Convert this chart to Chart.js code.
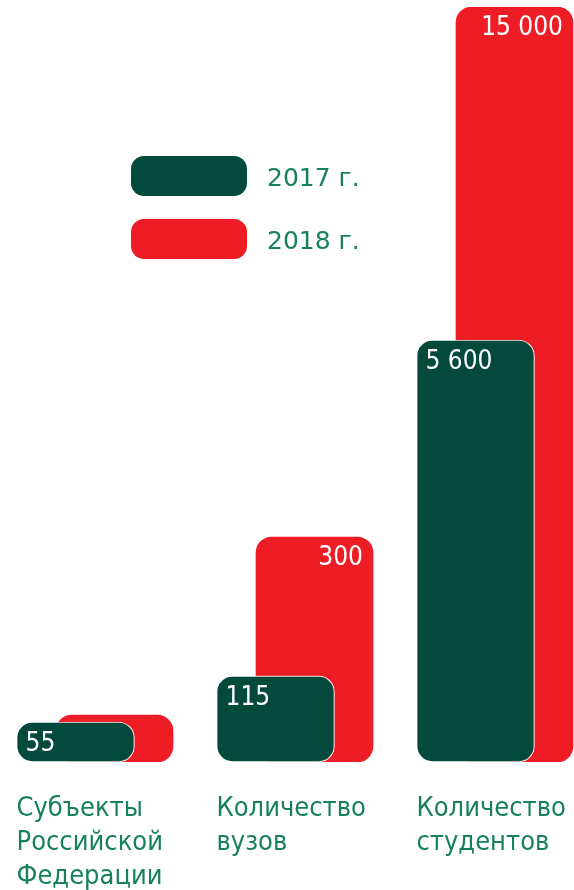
<!DOCTYPE html>
<html lang="ru">

<head>
  <meta charset="UTF-8">
  <title>Chart</title>
  <style>
    body { margin: 0; background: #fff; }
    .wrap { position: relative; width: 574px; height: 890px; }
  </style>
</head>

<body>
  <div class="wrap">
    <canvas id="myChart"></canvas>
  </div>
</body>

</html>
<script src="https://cdn.jsdelivr.net/npm/chart.js"></script>

<script>
  // categories (multi-line labels)
  var categorias = [
    ['Субъекты', 'Российской', 'Федерации'],
    ['Количество', 'вузов'],
    ['Количество', 'студентов']
  ];
  var series = ['2017 г.', '2018 г.'];
  // printed values
  var valores2017 = ['55', '115', '5 600'];
  var valores2018 = ['', '300', '15 000'];
  // bar heights as drawn in the picture (not to scale with the values), 0..100
  var altura2017 = [5.3, 11.4, 55.9];
  var altura2018 = [6.2, 29.8, 100];

  var verdeEscuro = '#034a3d';
  var vermelho = '#ee1d25';
  var verdeTexto = '#17805f';
  var fonteCond = '"Liberation Sans Narrow", "DejaVu Sans Condensed", sans-serif';

  function pontos(arr) {
    return arr.map(function (v, i) { return { x: i, y: v }; });
  }

  var plugin = {
    id: 'extras',
    afterDatasetsDraw: function (chart) {
      var ctx = chart.ctx;
      ctx.save();
      ctx.textBaseline = 'middle';
      ctx.font = '26px ' + fonteCond;
      ctx.fillStyle = '#ffffff';

      // value labels
      var m0 = chart.getDatasetMeta(0);
      var m1 = chart.getDatasetMeta(1);
      m0.data.forEach(function (bar, i) {
        var p = bar.getProps(['x', 'y', 'width'], true);
        ctx.textAlign = 'left';
        ctx.fillText(valores2017[i], p.x - p.width / 2 + 9, p.y + 22);
      });
      m1.data.forEach(function (bar, i) {
        var p = bar.getProps(['x', 'y', 'width'], true);
        ctx.textAlign = 'right';
        ctx.fillText(valores2018[i], p.x + p.width / 2 - 10, p.y + 21);
      });

      // category labels under the bars
      ctx.fillStyle = verdeTexto;
      ctx.textAlign = 'left';
      ctx.font = '27px ' + fonteCond;
      m0.data.forEach(function (bar, i) {
        var p = bar.getProps(['x', 'width'], true);
        categorias[i].forEach(function (linha, j) {
          ctx.fillText(linha, p.x - p.width / 2, chart.chartArea.bottom + 47 + j * 34);
        });
      });

      // legend
      var cores = [verdeEscuro, vermelho];
      ctx.font = '25px "DejaVu Sans", sans-serif';
      series.forEach(function (s, i) {
        var y = 156 + i * 63;
        ctx.fillStyle = cores[i];
        ctx.beginPath();
        ctx.roundRect(131, y, 116, 40, 13);
        ctx.fill();
        ctx.fillStyle = verdeTexto;
        ctx.fillText(s, 267, y + 23);
      });
      ctx.restore();
    }
  };

  const ctx = document.getElementById('myChart');
  new Chart(ctx, {
    type: 'bar',
    data: {
      datasets: [{
        label: series[0],
        data: pontos(altura2017),
        xAxisID: 'xd',
        backgroundColor: verdeEscuro,
        borderColor: 'rgba(255,255,255,0.85)',
        borderWidth: 1.2,
        borderRadius: 16,
        borderSkipped: false,
        barThickness: 118,
        grouped: false
      },
      {
        label: series[1],
        data: pontos(altura2018),
        xAxisID: 'xr',
        backgroundColor: vermelho,
        borderWidth: 0,
        borderRadius: 16,
        borderSkipped: false,
        barThickness: 117,
        grouped: false
      }]
    },
    options: {
      responsive: true,
      maintainAspectRatio: false,
      animation: false,
      layout: { padding: { top: 7, bottom: 128, left: 0, right: 0 } },
      plugins: {
        legend: { display: false },
        tooltip: { enabled: false }
      },
      scales: {
        xd: { type: 'linear', display: false, offset: false, min: -0.3775, max: 2.4925 },
        xr: { type: 'linear', display: false, offset: false, min: -0.5725, max: 2.2975 },
        y: { display: false, min: 0, max: 100 }
      }
    },
    plugins: [plugin]
  });
</script>
